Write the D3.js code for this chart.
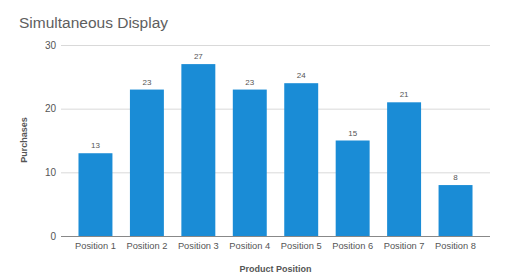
<!DOCTYPE html>
<html>
<head>
<meta charset="utf-8">
<script src="https://cdn.jsdelivr.net/npm/d3@7"></script>
<style>
  body { margin: 0; background: #fff; }
  text { font-family: Arial, "Liberation Sans", sans-serif; }
</style>
</head>
<body>
<div id="container"></div>
<script>
const width = 520;
const height = 279;

// chart data
const positions = ['Position 1', 'Position 2', 'Position 3', 'Position 4',
    'Position 5', 'Position 6', 'Position 7', 'Position 8'];
const purchases = [13, 23, 27, 23, 24, 15, 21, 8];
const yTicks = [0, 10, 20, 30];

const svg = d3.select('#container').append('svg')
    .attr('width', width)
    .attr('height', height);

const x = d3.scaleBand()
    .domain(positions)
    .range([61, 490])
    .paddingInner(0.34)
    .paddingOuter(0.34);

const y = d3.scaleLinear()
    .domain([0, 30])
    .range([236, 45]);

// title
svg.append('text')
    .attr('x', 19)
    .attr('y', 28)
    .attr('font-size', 15.5)
    .attr('fill', '#5e5e5e')
    .text('Simultaneous Display');

// gridlines + y labels
const yAxis = svg.append('g')
    .attr('transform', 'translate(61,0)')
    .call(d3.axisLeft(y).tickValues(yTicks).tickSize(-429).tickPadding(5));
yAxis.select('.domain').remove();
yAxis.selectAll('.tick line').attr('stroke', '#d9d9d9');
yAxis.selectAll('.tick text').attr('fill', '#555').attr('font-size', 10);

// bars
svg.selectAll('rect.bar')
    .data(purchases)
    .join('rect')
    .attr('class', 'bar')
    .attr('x', (d, i) => x(positions[i]))
    .attr('y', d => y(d))
    .attr('width', x.bandwidth())
    .attr('height', d => y(0) - y(d))
    .attr('fill', '#1a8cd6');

// value labels
svg.selectAll('text.val')
    .data(purchases)
    .join('text')
    .attr('class', 'val')
    .attr('x', (d, i) => x(positions[i]) + x.bandwidth() / 2)
    .attr('y', d => y(d) - 5)
    .attr('text-anchor', 'middle')
    .attr('font-size', 8)
    .attr('fill', '#555')
    .text(d => d);

// x axis
const xAxis = svg.append('g')
    .attr('transform', `translate(0,${y(0)})`)
    .call(d3.axisBottom(x).tickSize(0).tickPadding(6));
xAxis.select('.domain').attr('stroke', '#888').attr('d', 'M61,0.5H490');
xAxis.selectAll('.tick text').attr('fill', '#555').attr('font-size', 9.3);

// axis titles
svg.append('text')
    .attr('x', 275.5)
    .attr('y', 271.5)
    .attr('text-anchor', 'middle')
    .attr('font-size', 9)
    .attr('font-weight', 'bold')
    .attr('fill', '#555')
    .text('Product Position');

svg.append('text')
    .attr('transform', 'translate(27,140) rotate(-90)')
    .attr('text-anchor', 'middle')
    .attr('font-size', 9)
    .attr('font-weight', 'bold')
    .attr('fill', '#555')
    .text('Purchases');
</script>
</body>
</html>
